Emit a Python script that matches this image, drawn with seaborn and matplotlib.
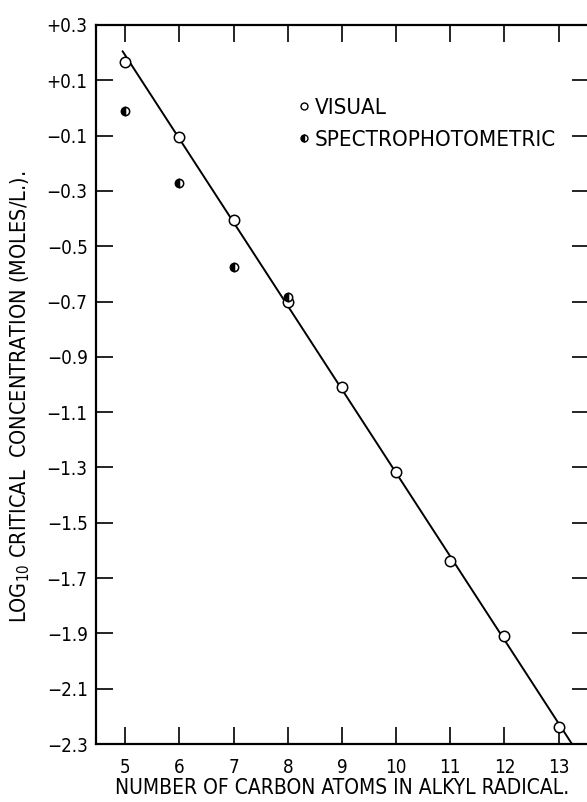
import numpy as np
import pandas as pd
import matplotlib
matplotlib.use("Agg")
import matplotlib.pyplot as plt
from matplotlib.lines import Line2D
import seaborn as sns

# ---- data ----
carbon_visual = [5, 6, 7, 8, 9, 10, 11, 12, 13]
log_visual = [0.165, -0.105, -0.405, -0.70, -1.01, -1.315, -1.64, -1.91, -2.24]
carbon_spectro = [5, 6, 7, 8]
log_spectro = [-0.01, -0.27, -0.575, -0.685]
x_ticks = [5, 6, 7, 8, 9, 10, 11, 12, 13]
x_ticklabels = ["5", "6", "7", "8", "9", "10", "11", "12", "13"]
y_ticks = [0.3, 0.1, -0.1, -0.3, -0.5, -0.7, -0.9, -1.1, -1.3, -1.5, -1.7, -1.9, -2.1, -2.3]
y_ticklabels = ["+0.3", "+0.1", "\u22120.1", "\u22120.3", "\u22120.5", "\u22120.7", "\u22120.9",
                "\u22121.1", "\u22121.3", "\u22121.5", "\u22121.7", "\u22121.9", "\u22122.1", "\u22122.3"]
fit_range = [4.95, 13.6]

sns.set_theme(style="ticks")
plt.rcParams["font.family"] = ["DejaVu Sans"]
plt.rcParams["font.stretch"] = "condensed"
plt.rcParams["text.color"] = "black"
plt.rcParams["axes.labelcolor"] = "black"
plt.rcParams["xtick.color"] = "black"
plt.rcParams["ytick.color"] = "black"

fig = plt.figure(figsize=(5.87, 8.02), dpi=100)
ax = fig.add_axes([96 / 587, 58 / 802, 493 / 587, 719 / 802])

# fitted straight line through visual data
slope, intercept = np.polyfit(carbon_visual, log_visual, 1)
fx = np.array(fit_range)
fit_df = pd.DataFrame({"x": fx, "y": slope * fx + intercept})
sns.lineplot(data=fit_df, x="x", y="y", ax=ax, color="black", linewidth=1.4, zorder=2)

vis_df = pd.DataFrame({"x": carbon_visual, "y": log_visual})
sns.lineplot(data=vis_df, x="x", y="y", ax=ax, linestyle="none", marker="o",
             markersize=7.5, markerfacecolor="white", markeredgecolor="black",
             markeredgewidth=1.1, color="black", zorder=3)

spec_df = pd.DataFrame({"x": carbon_spectro, "y": log_spectro})
sns.lineplot(data=spec_df, x="x", y="y", ax=ax, linestyle="none", marker="o",
             markersize=6, fillstyle="left", markerfacecolor="black",
             markerfacecoloralt="white", markeredgecolor="black",
             markeredgewidth=1.1, color="black", zorder=3)

ax.set_xlim(4.46, 13.56)
ax.set_ylim(-2.3, 0.3)
ax.set_xticks(x_ticks)
ax.set_xticklabels(x_ticklabels)
ax.set_yticks(y_ticks)
ax.set_yticklabels(y_ticklabels)
ax.tick_params(direction="in", length=12, width=1.2, top=True, right=True,
               labelsize=13.5, colors="black", pad=6)
ax.tick_params(axis="x", pad=10)
for s in ax.spines.values():
    s.set_linewidth(1.6)
    s.set_color("black")

ax.set_xlabel("NUMBER OF CARBON ATOMS IN ALKYL RADICAL.", fontsize=15, labelpad=1)
ax.set_ylabel("LOG$_{10}$ CRITICAL  CONCENTRATION (MOLES/L.).", fontsize=15.5)
ax.yaxis.set_label_coords(-0.13, 0.483)

handles = [
    Line2D([], [], linestyle="none", marker="o", markersize=5, markerfacecolor="white",
           markeredgecolor="black", markeredgewidth=1.0),
    Line2D([], [], linestyle="none", marker="o", markersize=5, fillstyle="left",
           markerfacecolor="black", markerfacecoloralt="white", markeredgecolor="black",
           markeredgewidth=1.0),
]
leg = ax.legend(handles, ["VISUAL", "SPECTROPHOTOMETRIC"], loc="upper left",
                bbox_to_anchor=(0.39, 0.911), frameon=False, fontsize=16,
                handlelength=0.6, handletextpad=0.2, labelspacing=0.55, borderaxespad=0)
for t in leg.get_texts():
    t.set_color("black")

fig.savefig("out.png", dpi=100, facecolor="white")
